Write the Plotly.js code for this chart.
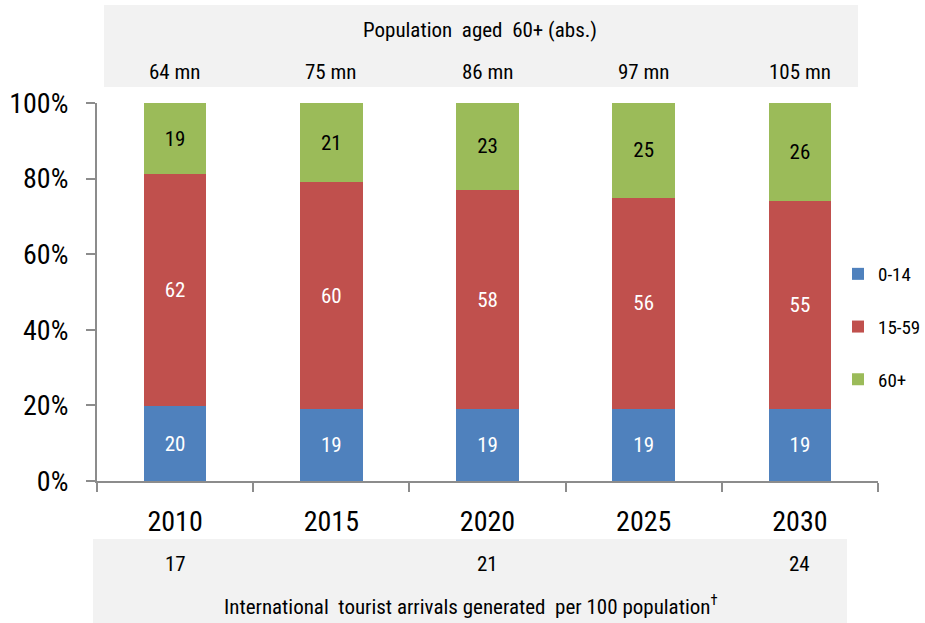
<!DOCTYPE html>
<html>
<head>
<meta charset="utf-8">
<script src="https://cdn.plot.ly/plotly-3.0.1.min.js"></script>
<style>html,body{margin:0;padding:0;background:#fff;}#chart{width:925px;height:623px;}</style>
</head>
<body>
<div id="chart"></div>
<script>
// ---- data ----
var years = ['2010', '2015', '2020', '2025', '2030'];
var age0to14 = [20, 19, 19, 19, 19];
var age15to59 = [62, 60, 58, 56, 55];
var age60plus = [19, 21, 23, 25, 26];
var seriesNames = ['0-14', '15-59', '60+'];
var pop60Labels = ['64 mn', '75 mn', '86 mn', '97 mn', '105 mn'];
var arrivalYears = ['2010', '2020', '2030'];
var arrivalsPer100 = [17, 21, 24];
var topTitle = 'Population  aged  60+ (abs.)';
var bottomTitle = 'International  tourist arrivals generated  per 100 population<sup>†</sup>';

var FONT = '"Liberation Sans Narrow", "Arial Narrow", "Roboto Condensed", "Liberation Sans", Arial, sans-serif';
var colors = ['#4F81BD', '#C0504D', '#9BBB59'];
var textColors = ['#ffffff', '#ffffff', '#000000'];
var series = [age0to14, age15to59, age60plus];

var traces = series.map(function (vals, i) {
  return {
    type: 'bar',
    name: seriesNames[i],
    x: years,
    y: vals,
    text: vals,
    texttemplate: '%{text}',
    textposition: 'inside',
    insidetextanchor: 'middle',
    textangle: 0,
    textfont: {family: FONT, size: 21, color: textColors[i]},
    marker: {color: colors[i], line: {width: 0}},
    legendgroup: 'g' + i,
    hoverinfo: 'skip'
  };
});

// plot area in pixels
var L = 97, R = 878, T = 103, B = 481;
var W = R - L, H = B - T;
function px(x) { return (x - L) / W; }
function py(y) { return (B - y) / H; }

var annotations = [];
annotations.push({xref: 'paper', yref: 'paper', x: px(480), y: py(30), text: topTitle, showarrow: false,
  xanchor: 'center', yanchor: 'middle', font: {family: FONT, size: 21, color: '#000'}});
pop60Labels.forEach(function (t, i) {
  annotations.push({xref: 'x', yref: 'paper', x: i, y: py(72), text: t, showarrow: false,
    xanchor: 'center', yanchor: 'middle', font: {family: FONT, size: 21, color: '#000'}});
});
arrivalsPer100.forEach(function (v, i) {
  annotations.push({xref: 'x', yref: 'paper', x: years.indexOf(arrivalYears[i]), y: py(564), text: String(v), showarrow: false,
    xanchor: 'center', yanchor: 'middle', font: {family: FONT, size: 21, color: '#000'}});
});
annotations.push({xref: 'paper', yref: 'paper', x: px(471), y: py(605), text: bottomTitle, showarrow: false,
  xanchor: 'center', yanchor: 'middle', font: {family: FONT, size: 21, color: '#000'}});

var shapes = [
  {type: 'rect', xref: 'paper', yref: 'paper', x0: px(104), x1: px(858), y0: py(87), y1: py(5),
   fillcolor: '#F2F2F2', line: {width: 0}, layer: 'below'},
  {type: 'rect', xref: 'paper', yref: 'paper', x0: px(93), x1: px(847), y0: py(623), y1: py(539),
   fillcolor: '#F2F2F2', line: {width: 0}, layer: 'below'}
];

var layout = {
  width: 925, height: 623,
  margin: {l: L, r: 925 - R, t: T, b: 623 - B, pad: 0, autoexpand: false},
  paper_bgcolor: '#ffffff', plot_bgcolor: '#ffffff',
  barmode: 'stack', barnorm: 'percent', bargap: 0.6,
  font: {family: FONT, color: '#000'},
  xaxis: {
    type: 'category', range: [-0.5, 4.5],
    showline: true, linecolor: '#8c8c8c', linewidth: 2,
    ticks: 'outside', tickson: 'boundaries', ticklen: 9, tickwidth: 2, tickcolor: '#8c8c8c',
    ticklabelstandoff: 14,
    tickfont: {family: FONT, size: 28, color: '#000'},
    showgrid: false, zeroline: false, fixedrange: true
  },
  yaxis: {
    range: [0, 100], dtick: 20, ticksuffix: '%',
    showline: true, linecolor: '#8c8c8c', linewidth: 2,
    ticks: 'outside', ticklen: 9, tickwidth: 2, tickcolor: '#8c8c8c',
    ticklabelstandoff: 12,
    tickfont: {family: FONT, size: 28, color: '#000'},
    showgrid: false, zeroline: false, fixedrange: true
  },
  legend: {
    xref: 'container', yref: 'container',
    x: 838 / 925, xanchor: 'left', y: 1 - 255 / 623, yanchor: 'top',
    traceorder: 'grouped', tracegroupgap: 25,
    font: {family: FONT, size: 19, color: '#000'},
    bgcolor: 'rgba(0,0,0,0)', itemwidth: 30
  },
  annotations: annotations,
  shapes: shapes,
  showlegend: true
};

Plotly.newPlot('chart', traces, layout, {displayModeBar: false, staticPlot: true});
</script>
</body>
</html>
